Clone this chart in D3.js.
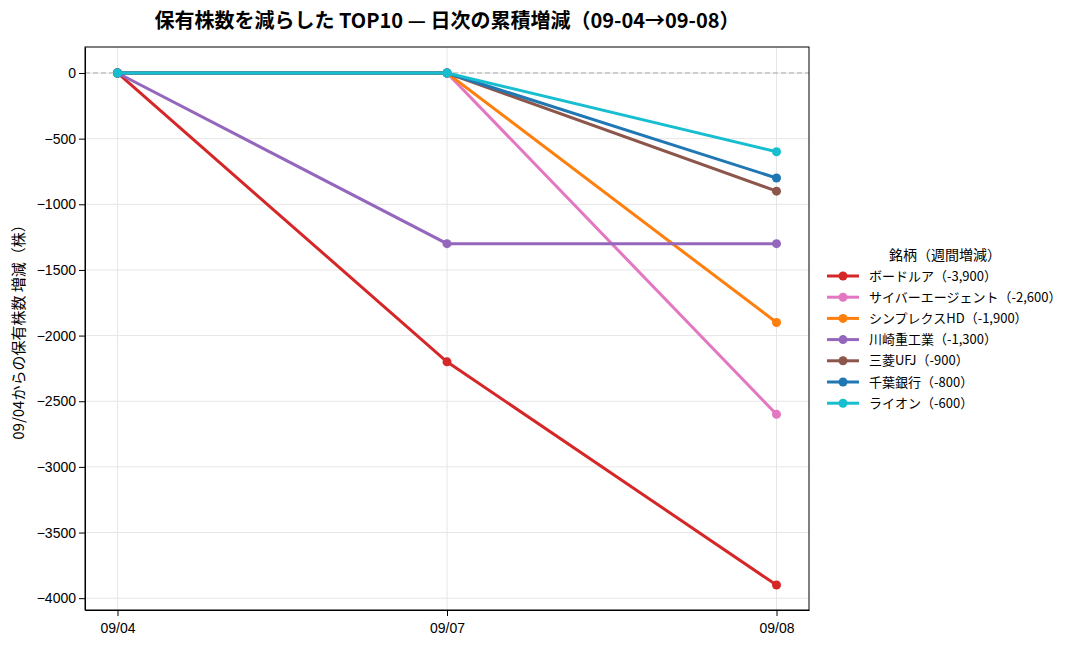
<!DOCTYPE html>
<html><head><meta charset="utf-8">
<script src="https://cdn.jsdelivr.net/npm/d3@7"></script>
<style>body{margin:0;background:#fff;font-family:"Noto Sans CJK JP","Noto Sans",sans-serif}</style>
</head><body><div id="chart"></div>
<script>
const dates = ["09/04", "09/07", "09/08"];
const names = ["ボードルア", "サイバーエージェント", "シンプレクスHD", "川崎重工業", "三菱UFJ", "千葉銀行", "ライオン"];
const weekly = ["-3,900", "-2,600", "-1,900", "-1,300", "-900", "-800", "-600"];
const values = [
  [0, -2200, -3900],
  [0, 0, -2600],
  [0, 0, -1900],
  [0, -1300, -1300],
  [0, 0, -900],
  [0, 0, -800],
  [0, 0, -600]
];
const colors = ["#d62728", "#e377c2", "#ff7f0e", "#9467bd", "#8c564b", "#1f77b4", "#17becf"];
const yTicks = [0, -500, -1000, -1500, -2000, -2500, -3000, -3500, -4000];

const W = 1087, H = 649, L = 85, R = 809, T = 47, B = 610;
const svg = d3.select("#chart").append("svg").attr("width", W).attr("height", H);

const x = d3.scalePoint().domain(dates).range([L, R]).padding(0.0986);
const y = d3.scaleLinear().domain([-4090, 198]).range([B, T]);

// grid
svg.append("g").selectAll("line").data(yTicks).enter().append("line")
  .attr("x1", L).attr("x2", R).attr("y1", d => y(d)).attr("y2", d => y(d))
  .attr("stroke", "#e6e6e6");
svg.append("g").selectAll("line").data(dates).enter().append("line")
  .attr("y1", T).attr("y2", B).attr("x1", d => x(d)).attr("x2", d => x(d))
  .attr("stroke", "#e6e6e6");
svg.append("line").attr("x1", L).attr("x2", R).attr("y1", y(0)).attr("y2", y(0))
  .attr("stroke", "#aaa").attr("stroke-dasharray", "5,3");

// axes
svg.append("g").attr("transform", `translate(0,${B})`)
  .call(d3.axisBottom(x).tickSizeOuter(0))
  .call(g => g.selectAll("text").attr("font-size", 14).attr("fill", "#000").attr("dy", "1em"));
svg.append("g").attr("transform", `translate(${L},0)`)
  .call(d3.axisLeft(y).tickValues(yTicks).tickFormat(d3.format("d")).tickSizeOuter(0))
  .call(g => g.selectAll("text").attr("font-size", 14).attr("fill", "#000"));
svg.append("rect").attr("x", L).attr("y", T).attr("width", R - L).attr("height", B - T)
  .attr("fill", "none").attr("stroke", "#000");

// lines
const line = d3.line().x((d, i) => x(dates[i])).y(d => y(d));
names.forEach((n, k) => {
  const g = svg.append("g");
  g.append("path").datum(values[k]).attr("d", line).attr("fill", "none")
    .attr("stroke", colors[k]).attr("stroke-width", 3);
  g.selectAll("circle").data(values[k]).enter().append("circle")
    .attr("cx", (d, i) => x(dates[i])).attr("cy", d => y(d)).attr("r", 4.5).attr("fill", colors[k]);
});

// titles
svg.append("text").attr("x", 447).attr("y", 28).attr("text-anchor", "middle")
  .attr("font-size", 20).attr("font-weight", "bold")
  .text("保有株数を減らした TOP10 — 日次の累積増減（09-04→09-08）");
svg.append("text").attr("transform", `translate(24,${(T + B) / 2}) rotate(-90)`)
  .attr("text-anchor", "middle").attr("font-size", 15).text("09/04からの保有株数 増減（株）");

// legend
const lg = svg.append("g").attr("transform", "translate(827,0)");
lg.append("text").attr("x", 118).attr("y", 260).attr("text-anchor", "middle").attr("font-size", 14).text("銘柄（週間増減）");
names.forEach((n, k) => {
  const yy = 276 + k * 21.2;
  lg.append("line").attr("x1", 0).attr("x2", 32).attr("y1", yy).attr("y2", yy).attr("stroke", colors[k]).attr("stroke-width", 3);
  lg.append("circle").attr("cx", 16).attr("cy", yy).attr("r", 4.5).attr("fill", colors[k]);
  lg.append("text").attr("x", 42).attr("y", yy + 4.5).attr("font-size", 13).text(`${n}（${weekly[k]}）`);
});
</script></body></html>
